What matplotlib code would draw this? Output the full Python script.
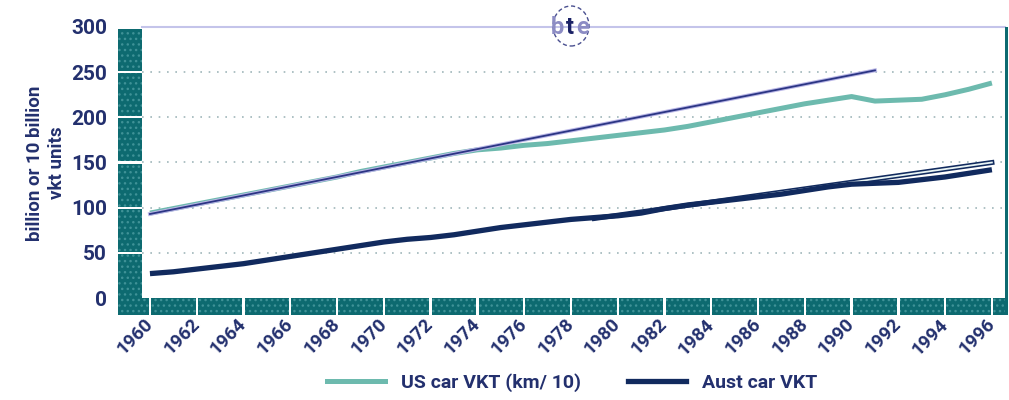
import matplotlib
matplotlib.use("Agg")
import matplotlib.pyplot as plt
from matplotlib.patches import Rectangle, Ellipse
from matplotlib.lines import Line2D

# US car VKT (km/10), billion units
us_years = list(range(1960, 1997))
us_vkt = [94, 99, 104, 109, 114, 119, 124, 129, 134, 140, 145, 150, 155, 160,
          164, 166, 169, 171, 174, 177, 180, 183, 186, 190, 195, 200, 205, 210,
          215, 219, 223, 218, 219, 220, 225, 231, 238]

# Australian car VKT, billion km
aus_years = list(range(1960, 1997))
aus_vkt = [27, 29, 32, 35, 38, 42, 46, 50, 54, 58, 62, 65, 67, 70, 74, 78, 81,
           84, 87, 89, 91, 94, 99, 103, 106, 109, 112, 115, 119, 123, 126, 127,
           128, 131, 134, 138, 142]

# trend lines
us_trend_years = [1960, 1991]
us_trend = [93, 252]
aus_trend_years = [1979, 1996]
aus_trend = [88, 150]

x_ticks = list(range(1960, 1997, 2))
y_ticks = [0, 50, 100, 150, 200, 250, 300]

W, H = 1009, 400
NAVY = "#23306e"
TEAL_WALL = "#0d6a70"
US_COL = "#6dbaae"
AUS_COL = "#112a5e"

plt.rcParams["font.family"] = ["Roboto", "DejaVu Sans"]

fig = plt.figure(figsize=(W / 100, H / 100), dpi=100)
ax = fig.add_axes([142 / W, 102 / H, 863 / W, 271 / H])
ax.set_xlim(1959.66, 1996.56)
ax.set_ylim(0, 300)
for s in ax.spines.values():
    s.set_visible(False)

# dotted gridlines
for v in y_ticks[1:-1]:
    ax.axhline(v, color="#9fb6ba", lw=1.2, ls=(0, (1, 4)), zorder=1)
# top border
ax.axhline(300, color="#c4c4ea", lw=1.5, zorder=1, clip_on=False)

# left wall (blocks split at gridlines)
ytr = ax.get_yaxis_transform()
wall_w = 24 / 863
for i, v in enumerate(y_ticks[:-1]):
    lo = v + 1.2 if i > 0 else -19
    hi = v + 50 - 1.2 if v < 250 else 298
    ax.add_patch(Rectangle((-wall_w, lo), wall_w, hi - lo, transform=ytr,
                           facecolor=TEAL_WALL, edgecolor="#3f9297", hatch="...",
                           lw=0, clip_on=False, zorder=2))

# floor (blocks split at ticks)
xtr = ax.get_xaxis_transform()
fl = 17 / 271
edges = [1958.63] + x_ticks + [1996.56]
for a, b in zip(edges[:-1], edges[1:]):
    a2 = a + 0.05 if a > 1959 else a
    b2 = b - 0.05 if b < 1996.5 else b
    ax.add_patch(Rectangle((a2, -fl), b2 - a2, fl, transform=xtr,
                           facecolor=TEAL_WALL, edgecolor="#3f9297", hatch="...",
                           lw=0, clip_on=False, zorder=2))
# right edge
ax.add_patch(Rectangle((1.0, -fl), 3 / 863, 1 + fl, transform=ax.transAxes,
                       facecolor=TEAL_WALL, lw=0, clip_on=False, zorder=2))

# series
ax.plot(us_years, us_vkt, color=US_COL, lw=3.6, zorder=3, solid_capstyle="butt")
ax.plot(us_trend_years, us_trend, color="#b9b6e6", lw=2.8, zorder=4)
ax.plot(us_trend_years, us_trend, color="#2b3584", lw=1.3, zorder=5)
ax.plot(aus_trend_years, aus_trend, color=AUS_COL, lw=3.6, zorder=3)
ax.plot(aus_trend_years, aus_trend, color="#e8f4f4", lw=1.3, zorder=3.5)
ax.plot(aus_years, aus_vkt, color=AUS_COL, lw=3.8, zorder=4, solid_capstyle="butt")

# ticks
ax.set_yticks(y_ticks)
ax.set_yticklabels([str(v) for v in y_ticks])
ax.set_xticks(x_ticks)
ax.set_xticklabels([str(v) for v in x_ticks])
ax.tick_params(axis="y", length=0, pad=25, labelsize=15, labelcolor=NAVY)
ax.tick_params(axis="x", length=0, pad=17, labelsize=13.5, labelcolor=NAVY)
for lab in ax.get_yticklabels():
    lab.set_fontweight("bold")
for lab in ax.get_xticklabels():
    lab.set_fontweight("bold")
    lab.set_rotation(45)
    lab.set_ha("right")
    lab.set_va("center")
    lab.set_rotation_mode("anchor")

# y label
fig.text(46 / W, 1 - 163 / H, "billion or 10 billion\nvkt units", rotation=90,
         ha="center", va="center", fontsize=13.5, fontweight="bold",
         color=NAVY, linespacing=1.25)

# logo
fig.add_artist(Ellipse((571 / W, 1 - 26 / H), 36 / W, 40 / H, transform=fig.transFigure,
                       fill=False, ec="#4a5090", lw=1.0, ls=(0, (3, 2))))
for ch, xp, col in [("b", 557, "#8c8cc4"), ("t", 570, "#1b2266"), ("e", 583, "#8c8cc4")]:
    fig.text(xp / W, 1 - 27 / H, ch, ha="center", va="center", fontsize=17,
             fontweight="bold", color=col)

# legend
handles = [Line2D([], [], color=US_COL, lw=3.6),
           Line2D([], [], color=AUS_COL, lw=3.8)]
leg = fig.legend(handles, ["US car VKT (km/ 10)", "Aust car VKT"],
                 loc="center", bbox_to_anchor=(572 / W, 1 - 383 / H), ncol=2,
                 frameon=False, handlelength=3.0, columnspacing=2.4,
                 prop={"weight": "bold", "size": 14})
for t in leg.get_texts():
    t.set_color(NAVY)

fig.savefig("out.png", dpi=100)
